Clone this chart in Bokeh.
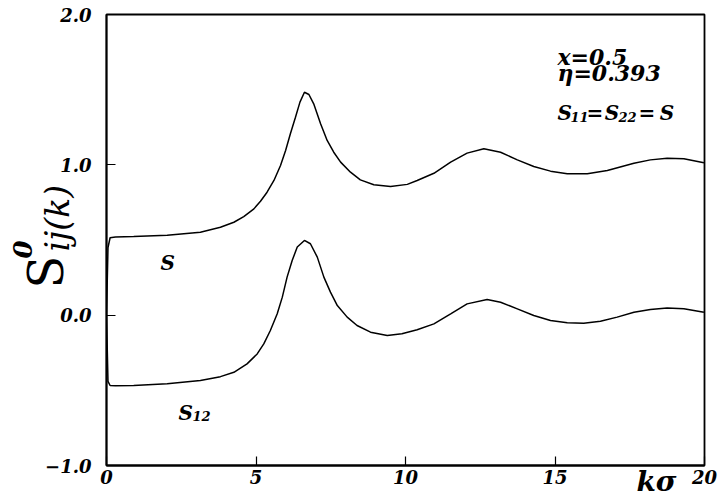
import math
from bokeh.plotting import figure
from bokeh.models import Label, FixedTicker, Range1d, Title
from bokeh.embed import file_html
from bokeh.resources import INLINE

# ---- data ----
k_s = [0.0, 0.05, 0.12, 0.3, 0.91, 2.03, 3.14, 3.81, 4.26, 4.59, 4.93, 5.15, 5.37, 5.60, 5.82,
       5.99, 6.15, 6.32, 6.47, 6.62, 6.77, 6.93, 7.16, 7.38, 7.60, 7.83, 8.16, 8.49, 8.94,
       9.50, 10.06, 10.39, 10.95, 11.51, 12.06, 12.62, 13.18, 13.74, 14.29, 14.85, 15.41,
       16.08, 16.75, 17.64, 18.19, 18.75, 19.31, 19.98]
s_vals = [0.0, 0.45, 0.515, 0.52, 0.523, 0.532, 0.552, 0.585, 0.618, 0.656, 0.707, 0.758, 0.818,
          0.896, 0.996, 1.095, 1.207, 1.317, 1.417, 1.483, 1.468, 1.406, 1.273, 1.162, 1.084,
          1.018, 0.951, 0.900, 0.867, 0.856, 0.870, 0.896, 0.944, 1.018, 1.078, 1.107, 1.084,
          1.033, 0.989, 0.958, 0.940, 0.940, 0.962, 1.011, 1.033, 1.044, 1.040, 1.014]

k_12 = [0.0, 0.05, 0.12, 0.3, 0.91, 2.03, 3.14, 3.81, 4.26, 4.70, 5.04, 5.26, 5.48, 5.71, 5.88,
        6.04, 6.21, 6.38, 6.62, 6.82, 7.05, 7.27, 7.49, 7.72, 8.05, 8.38, 8.83, 9.39, 9.88,
        10.39, 10.95, 11.51, 12.06, 12.73, 13.18, 13.74, 14.29, 14.85, 15.41, 15.96, 16.52,
        17.08, 17.64, 18.19, 18.75, 19.31, 19.98]
s12_vals = [0.0, -0.44, -0.468, -0.47, -0.468, -0.457, -0.435, -0.409, -0.380, -0.324, -0.258,
            -0.191, -0.102, 0.009, 0.120, 0.253, 0.364, 0.453, 0.497, 0.475, 0.386, 0.253, 0.153,
            0.064, -0.013, -0.069, -0.113, -0.135, -0.124, -0.097, -0.058, 0.009, 0.075, 0.104,
            0.086, 0.042, -0.002, -0.036, -0.051, -0.054, -0.041, -0.013, 0.020, 0.038, 0.047,
            0.043, 0.020]

x_ticks = [0, 5, 10, 15, 20]
x_tick_labels = ["0", "5", "10", "15", "20"]
y_ticks = [-1, 0, 1, 2]
y_tick_labels = ["\u22121.0", "0.0", "1.0", "2.0"]

FONT = "DejaVu Serif"

p = figure(width=719, height=503, output_backend="svg", toolbar_location=None,
           x_range=Range1d(0, 20), y_range=Range1d(-1, 2),
           min_border_left=106, min_border_right=15, min_border_top=14, min_border_bottom=38)

p.background_fill_color = "white"
p.border_fill_color = "white"
p.xgrid.visible = False
p.ygrid.visible = False
p.outline_line_color = "black"
p.outline_line_width = 1.8
p.outline_line_alpha = 1.0

p.xaxis.ticker = FixedTicker(ticks=x_ticks)
p.xaxis.major_label_overrides = dict(zip(x_ticks, x_tick_labels))
p.yaxis.ticker = FixedTicker(ticks=y_ticks)
p.yaxis.major_label_overrides = dict(zip(y_ticks, y_tick_labels))

for ax in (p.xaxis[0], p.yaxis[0]):
    ax.axis_line_color = "black"
    ax.axis_line_width = 1.8
    ax.major_tick_in = 9
    ax.major_tick_out = 0
    ax.minor_tick_in = 0
    ax.minor_tick_out = 0
    ax.major_tick_line_color = "black"
    ax.major_tick_line_width = 1.2
    ax.major_label_text_font = FONT
    ax.major_label_text_font_style = "bold italic"
    ax.major_label_text_font_size = "18px"
    ax.major_label_text_color = "black"
p.xaxis.major_label_standoff = 4
p.yaxis.major_label_standoff = 15

p.line(k_s, s_vals, line_color="black", line_width=1.5)
p.line(k_12, s12_vals, line_color="black", line_width=1.5)


def lab(x, y, text, size, style="bold italic"):
    p.add_layout(Label(x=x, y=y, text=text, text_font=FONT, text_font_size=size,
                       text_font_style=style, text_color="black",
                       text_align="left", text_baseline="alphabetic"))


def side_text(place, text, size, style, align, valign, offset, standoff):
    p.add_layout(Title(text=text, text_font=FONT, text_font_size=size,
                       text_font_style=style, text_color="black",
                       align=align, vertical_align=valign,
                       offset=offset, standoff=standoff), place)


# annotation block (top right)
lab(15.08, 1.716, "x=0.5", "22px")
lab(15.08, 1.611, "\u03b7=0.393", "22px")
lab(15.08, 1.3415, "S", "20px")
lab(15.52, 1.315, "11", "13px")
lab(16.05, 1.3415, "=", "20px")
lab(16.66, 1.3415, "S", "20px")
lab(17.12, 1.315, "22", "13px")
lab(17.79, 1.3415, "=", "20px")
lab(18.50, 1.3415, "S", "20px")

# curve labels
lab(1.806, 0.350, "S", "20px")
lab(2.408, -0.654, "S", "20px")
lab(2.876, -0.674, "12", "13px")

# y axis label pieces (left border) and x axis label (bottom border)
side_text("left", "0", "26px", "bold italic", "left", "top", 207, -60)
side_text("left", "ij(k)", "33px", "italic", "left", "bottom", 214, -68)
side_text("left", "S", "48px", "normal", "left", "bottom", 177, -63)
side_text("below", "k\u03c3", "28px", "bold italic", "right", "top", 28, -43)

open("out.html", "w").write(file_html(p, INLINE))
